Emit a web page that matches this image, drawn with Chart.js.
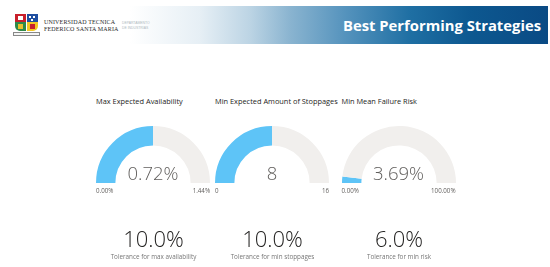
<!DOCTYPE html>
<html>
<head>
<meta charset="utf-8">
<script src="https://cdn.jsdelivr.net/npm/chart.js@4.4.1/dist/chart.umd.min.js"></script>
<style>
  html, body { margin: 0; padding: 0; background: #fff; }
  body { width: 550px; height: 267px; position: relative; overflow: hidden; font-family: "Open Sans", "Noto Sans", sans-serif; }
  .abs { position: absolute; white-space: nowrap; }
  #band { position: absolute; left: 0; top: 6px; width: 548px; height: 38px;
    background: linear-gradient(to right, #ffffff 0px, #ffffff 130px, #e6eff5 200px, #bcd4e4 250px, #8ab4d0 290px, #5593bd 345px, #1f6fa3 410px, #0d5890 470px, #0a4a84 548px); }
  #title { right: 9px; top: 15px; color: #fff; font-family: "Open Sans", sans-serif; font-weight: 700; font-size: 14.8px; line-height: 20px; }
  .uni { font-family: "Liberation Serif", "DejaVu Serif", serif; font-size: 6px; color: #2b2b2b; left: 44px; line-height: 7px; letter-spacing: 0.15px; }
  .dep { font-family: "Liberation Sans", sans-serif; font-size: 3.4px; color: #b0b9c0; left: 122px; line-height: 4px; }
  .gtitle { font-family: "Open Sans", sans-serif; font-size: 7.4px; color: #252423; top: 96px; line-height: 11px; }
  .gval { font-family: "Open Sans", sans-serif; font-weight: 300; font-size: 18.5px; color: #605e5c; top: 161px; line-height: 24px; transform: translateX(-50%); }
  .gmin, .gmax { font-family: "Open Sans", sans-serif; font-size: 6.2px; color: #605e5c; top: 186px; line-height: 9px; }
  .gmax { transform: translateX(-100%); }
  .kval { font-family: "Open Sans", sans-serif; font-weight: 300; font-size: 22px; color: #252423; top: 227px; line-height: 22px; transform: translateX(-50%); }
  .klab { font-family: "Open Sans", sans-serif; font-size: 6.3px; color: #777; top: 252px; line-height: 9px; transform: translateX(-50%); }
  canvas { position: absolute; }
  .crest div { position: absolute; }
</style>
</head>
<body>
<div id="band"></div>
<div id="title" class="abs">Best Performing Strategies</div>

<div class="crest" style="position:absolute;left:13px;top:14px;width:27px;height:22px;">
  <div style="left:2px;top:0;width:11px;height:8px;background:#c8202b;"></div>
  <div style="left:5px;top:2px;width:5px;height:4px;background:#fff;"></div>
  <div style="left:14px;top:0;width:11px;height:8px;background:#1f4fa0;"></div>
  <div style="left:16px;top:2px;width:2px;height:2px;background:#fff;"></div>
  <div style="left:20px;top:2px;width:2px;height:2px;background:#fff;"></div>
  <div style="left:18px;top:5px;width:2px;height:2px;background:#fff;"></div>
  <div style="left:2px;top:8px;width:11px;height:9px;background:#2e8a4a;border-bottom-left-radius:5px;"></div>
  <div style="left:5px;top:10px;width:5px;height:5px;background:#e8c12c;"></div>
  <div style="left:14px;top:8px;width:11px;height:9px;background:#f2c623;border-bottom-right-radius:5px;"></div>
  <div style="left:17px;top:10px;width:5px;height:5px;background:#c8202b;"></div>
  <div style="left:0;top:18px;width:27px;height:4px;background:#f4f4f4;border:1px solid #888;box-sizing:border-box;"></div>
</div>
<div class="abs uni" style="top:19px;">UNIVERSIDAD TECNICA</div>
<div class="abs uni" style="top:26px;">FEDERICO SANTA MARIA</div>
<div class="abs dep" style="top:21px;">DEPARTAMENTO</div>
<div class="abs dep" style="top:26px;">DE INDUSTRIAS</div>

<script>
// ---- data ----
const gaugeTitles = ["Max Expected Availability", "Min Expected Amount of Stoppages", "Min Mean Failure Risk"];
const gaugeValues = [0.72, 8, 3.69];
const gaugeMins = [0, 0, 0];
const gaugeMaxs = [1.44, 16, 100];
const gaugeValueLabels = ["0.72%", "8", "3.69%"];
const gaugeMinLabels = ["0.00%", "0", "0.00%"];
const gaugeMaxLabels = ["1.44%", "16", "100.00%"];
const kpiValues = ["10.0%", "10.0%", "6.0%"];
const kpiLabels = ["Tolerance for max availability", "Tolerance for min stoppages", "Tolerance for min risk"];

// ---- layout ----
const centersX = [153, 272, 398.5];
const R = 57;
const topY = 126;
const fillColor = "#5ec4f7";
const trackColor = "#f1efed";

const root = document.body;
function addText(cls, text, x, y) {
  const d = document.createElement("div");
  d.className = "abs " + cls;
  d.textContent = text;
  d.style.left = x + "px";
  if (y !== undefined) d.style.top = y + "px";
  root.appendChild(d);
  return d;
}

gaugeTitles.forEach((t, i) => {
  const cx = centersX[i];
  addText("gtitle", t, cx - R);
  const c = document.createElement("canvas");
  c.width = 2 * R; c.height = R;
  c.style.left = (cx - R) + "px"; c.style.top = topY + "px";
  c.style.width = (2 * R) + "px"; c.style.height = R + "px";
  root.appendChild(c);
  new Chart(c, {
    type: "doughnut",
    data: {
      labels: ["value", "rest"],
      datasets: [{
        data: [gaugeValues[i] - gaugeMins[i], gaugeMaxs[i] - gaugeValues[i]],
        backgroundColor: [fillColor, trackColor],
        borderWidth: 0,
        hoverOffset: 0
      }]
    },
    options: {
      responsive: false,
      maintainAspectRatio: false,
      animation: false,
      rotation: -90,
      circumference: 180,
      cutout: "66%",
      layout: { padding: 0 },
      events: [],
      plugins: { legend: { display: false }, tooltip: { enabled: false } }
    }
  });
  addText("gval", gaugeValueLabels[i], cx);
  addText("gmin", gaugeMinLabels[i], cx - R);
  addText("gmax", gaugeMaxLabels[i], cx + R);
  addText("kval", kpiValues[i], cx + 0.5);
  addText("klab", kpiLabels[i], cx + 0.5);
});
</script>
</body>
</html>
